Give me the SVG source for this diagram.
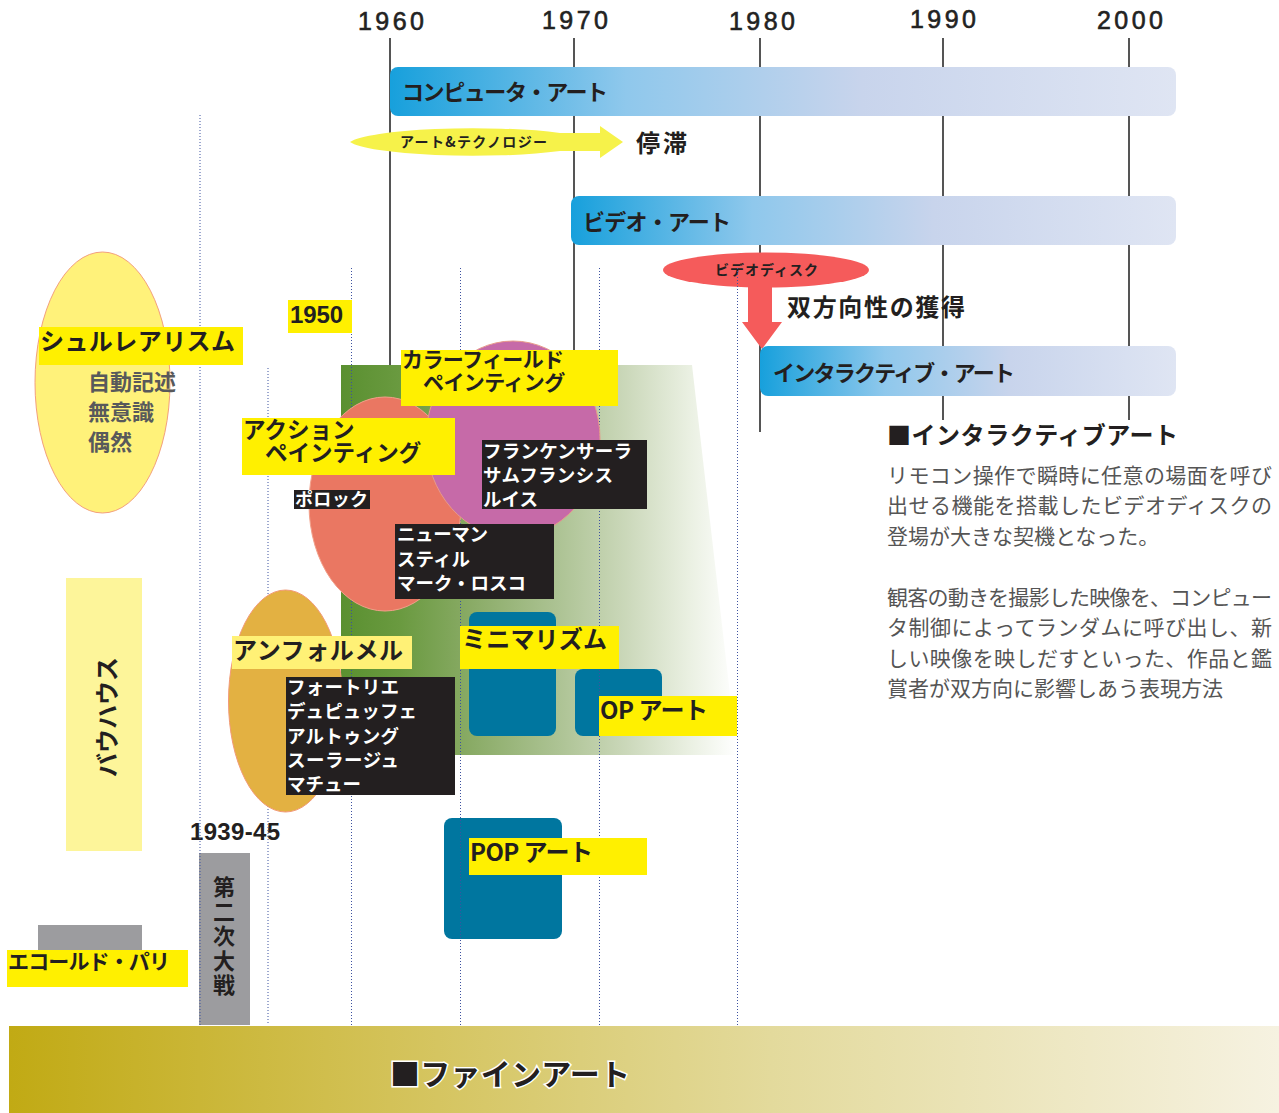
<svg xmlns="http://www.w3.org/2000/svg" width="1279" height="1113" viewBox="0 0 1279 1113">
<style>
.jp{font-family:"Noto Sans CJK JP","Noto Sans",sans-serif}
.en{font-family:"Liberation Sans","Noto Sans",sans-serif}
.b{font-weight:bold;fill:#231f20}
.w{font-weight:bold;fill:#ffffff}
.g{font-weight:bold;fill:#58595b}
.yr{font-family:"Liberation Sans","Noto Sans",sans-serif;font-size:25px;fill:#222;stroke:#222;stroke-width:0.6;text-anchor:middle}
.tick{stroke:#555;stroke-width:2;fill:none}
.dot{stroke:#3d52a0;stroke-width:1;stroke-dasharray:1 2;fill:none}
.ylw{fill:#fff000}
.blk{fill:#231f20}
.box{fill:#00769f}
.gray{fill:#9c9c9f}
.bar{fill:url(#barG)}
.para{font-family:"Noto Sans CJK JP","Noto Sans",sans-serif;font-size:21px;fill:#555}
</style>
<defs>
<linearGradient id="barG" x1="0" y1="0" x2="1" y2="0">
<stop offset="0" stop-color="#17a0dc"/>
<stop offset="0.3" stop-color="#8fc8ec"/>
<stop offset="0.6" stop-color="#c8d4ec"/>
<stop offset="1" stop-color="#dfe5f3"/>
</linearGradient>
<linearGradient id="greenG" gradientUnits="userSpaceOnUse" x1="341" y1="0" x2="737" y2="0">
<stop offset="0" stop-color="#5a9030"/>
<stop offset="0.15" stop-color="#6a9a40"/>
<stop offset="0.32" stop-color="#88aa64"/>
<stop offset="0.55" stop-color="#adc394"/>
<stop offset="0.72" stop-color="#cbd8ba"/>
<stop offset="0.88" stop-color="#eaf0e2"/>
<stop offset="1" stop-color="#ffffff"/>
</linearGradient>
<linearGradient id="bandG" x1="0" y1="0" x2="1" y2="0">
<stop offset="0" stop-color="#c1aa14"/>
<stop offset="0.3" stop-color="#d3c258"/>
<stop offset="0.6" stop-color="#e3da9c"/>
<stop offset="1" stop-color="#f6f2e1"/>
</linearGradient>
</defs>
<rect width="1279" height="1113" fill="#ffffff"/>

<g id="timeline">
<text class="yr" x="391" y="30" textLength="66">1960</text>
<text class="yr" x="575" y="29" textLength="66">1970</text>
<text class="yr" x="762" y="30" textLength="66">1980</text>
<text class="yr" x="943" y="28" textLength="66">1990</text>
<text class="yr" x="1130" y="29" textLength="66">2000</text>
<line class="tick" x1="390" y1="38" x2="390" y2="365"/>
<line class="tick" x1="574" y1="38" x2="574" y2="365"/>
<line class="tick" x1="760" y1="38" x2="760" y2="432"/>
<line class="tick" x1="943" y1="38" x2="943" y2="420"/>
<line class="tick" x1="1129" y1="38" x2="1129" y2="420"/>
</g>

<g id="fine-art-band">
<rect x="9" y="1026" width="1270" height="87" fill="url(#bandG)"/>
<text class="jp b" font-size="30" x="390" y="1085" stroke="#ffffff" stroke-width="3" paint-order="stroke" textLength="240">■ファインアート</text>
</g>

<g id="green-area">
<polygon points="341,365 692,365 737,755 341,755" fill="url(#greenG)"/>
</g>

<g id="minimalism-box"><rect class="box" x="469" y="612" width="87" height="124" rx="8"/></g>
<g id="op-box"><rect class="box" x="575" y="669" width="87" height="67" rx="8"/></g>
<g id="pop-box"><rect class="box" x="444" y="818" width="118" height="121" rx="8"/></g>

<g id="bauhaus">
<rect x="66" y="578" width="76" height="273" fill="#fdf59a"/>
<text class="jp b" font-size="24" text-anchor="middle" transform="translate(116,717) rotate(-90)">バウハウス</text>
</g>

<g id="ww2">
<text class="en b" font-size="24" x="190" y="840" textLength="90">1939-45</text>
<rect class="gray" x="199" y="853" width="51" height="172"/>
<text class="jp b" font-size="22" x="224" y="876" letter-spacing="2.5" style="writing-mode:vertical-rl">第二次大戦</text>
</g>

<g id="ecole-de-paris">
<rect class="gray" x="38" y="925" width="104" height="25"/>
<rect class="ylw" x="7" y="950" width="181" height="37"/>
<text class="jp b" font-size="21" x="8" y="969" textLength="162">エコールド・パリ</text>
</g>

<g id="videodisc">
<ellipse cx="766" cy="270" rx="103" ry="17.5" fill="#f55b5b"/>
<text class="jp b" font-size="14" x="715" y="275" textLength="103">ビデオディスク</text>
</g>

<g id="guides">
<line class="dot" x1="200" y1="115" x2="200" y2="1025"/>
<line class="dot" x1="268" y1="368" x2="268" y2="1025"/>
<line class="dot" x1="351.5" y1="268" x2="351.5" y2="1025"/>
<line class="dot" x1="460.5" y1="268" x2="460.5" y2="1025"/>
<line class="dot" x1="599.5" y1="268" x2="599.5" y2="1025"/>
<line class="dot" x1="737.5" y1="268" x2="737.5" y2="1025"/>
</g>

<g id="computer-art">
<rect class="bar" x="390" y="67" width="786" height="49" rx="8"/>
<text class="jp b" font-size="22" x="402" y="100" textLength="206">コンピュータ・アート</text>
</g>

<g id="art-and-technology">
<path d="M350,142 A125,17 0 0 1 560,133 L600,133 L600,126 L623,142 L600,158 L600,151 L560,151 A125,17 0 0 1 350,142 Z" fill="#f6f24a"/>
<text class="jp b" font-size="14" x="400" y="147" textLength="147">アート&amp;テクノロジー</text>
</g>

<g id="stagnation">
<text class="jp b" font-size="24" x="636" y="152" textLength="51">停滞</text>
</g>

<g id="video-art">
<rect class="bar" x="571" y="196" width="605" height="49" rx="8"/>
<text class="jp b" font-size="22" x="583" y="230" textLength="148">ビデオ・アート</text>
</g>

<g id="connectors">
<path d="M748,285 L772,285 L772,322 L782,322 L762,349 L742,322 L748,322 Z" fill="#f55b5b"/>
</g>

<g id="interactivity">
<text class="jp b" font-size="24" x="787" y="316" textLength="178">双方向性の獲得</text>
</g>

<g id="interactive-art">
<rect class="bar" x="760" y="346" width="416" height="50" rx="8"/>
<text class="jp b" font-size="22" x="773" y="381" textLength="242">インタラクティブ・アート</text>
</g>

<g id="interactive-note">
<text class="jp b" font-size="24" x="887" y="444" textLength="291">■インタラクティブアート</text>
<text class="para" x="887" y="483" textLength="385">リモコン操作で瞬時に任意の場面を呼び</text>
<text class="para" x="887" y="513" textLength="385">出せる機能を搭載したビデオディスクの</text>
<text class="para" x="887" y="544">登場が大きな契機となった。</text>
<text class="para" x="887" y="605" textLength="385">観客の動きを撮影した映像を、コンピュー</text>
<text class="para" x="887" y="635" textLength="385">タ制御によってランダムに呼び出し、新</text>
<text class="para" x="887" y="666" textLength="385">しい映像を映しだすといった、作品と鑑</text>
<text class="para" x="887" y="696">賞者が双方向に影響しあう表現方法</text>
</g>

<g id="surrealism">
<ellipse cx="102.5" cy="382.5" rx="67.5" ry="130.5" fill="#fff27a" stroke="#f3a07c" stroke-width="1"/>
<rect class="ylw" x="39" y="327" width="204" height="38"/>
<text class="jp b" font-size="24" x="40" y="350" textLength="195">シュルレアリスム</text>
<text class="jp g" font-size="22" x="88" y="390">自動記述</text>
<text class="jp g" font-size="22" x="88" y="420">無意識</text>
<text class="jp g" font-size="22" x="88" y="450">偶然</text>
</g>

<g id="year-1950">
<rect class="ylw" x="288" y="300" width="64" height="33"/>
<text class="en b" font-size="24" x="290" y="323" textLength="53">1950</text>
</g>

<g id="action-painting">
<ellipse cx="385" cy="504" rx="76" ry="107" fill="#ea7762" stroke="#f2a08a" stroke-width="1"/>
</g>

<g id="color-field-painting">
<ellipse cx="513" cy="439" rx="87" ry="98" fill="#c66aa8" stroke="#e79a8a" stroke-width="1"/>
<rect class="ylw" x="401" y="350" width="217" height="56"/>
<text class="jp b" font-size="21" letter-spacing="-0.6"><tspan x="402" y="367">カラーフィールド</tspan><tspan x="423" y="390">ペインティング</tspan></text>
<rect class="blk" x="482" y="440" width="165" height="69"/>
<text class="jp w" font-size="18.5" x="483" y="458" textLength="149">フランケンサーラ</text>
<text class="jp w" font-size="18.5" x="483" y="482" textLength="130">サムフランシス</text>
<text class="jp w" font-size="18.5" x="483" y="506">ルイス</text>
</g>

<g id="action-painting-labels">
<rect class="ylw" x="242" y="418" width="213" height="57"/>
<text class="jp b" font-size="22.5"><tspan x="243" y="438">アクション</tspan><tspan x="265" y="461">ペインティング</tspan></text>
<rect class="blk" x="294" y="490" width="76" height="19"/>
<text class="jp w" font-size="18" x="295" y="506" textLength="73">ポロック</text>
<rect class="blk" x="395" y="524" width="159" height="75"/>
<text class="jp w" font-size="18.5" x="397" y="541" textLength="91">ニューマン</text>
<text class="jp w" font-size="18.5" x="397" y="566">スティル</text>
<text class="jp w" font-size="18.5" x="397" y="590" textLength="129">マーク・ロスコ</text>
</g>

<g id="informel">
<ellipse cx="285.5" cy="701" rx="57" ry="111" fill="#e3b142" stroke="#f29a78" stroke-width="1"/>
<rect x="232" y="636" width="180" height="33" fill="#fff176"/>
<text class="jp b" font-size="24" x="233" y="659" textLength="170">アンフォルメル</text>
<rect class="blk" x="286" y="677" width="169" height="118"/>
<text class="jp w" font-size="18.5" x="287" y="694" textLength="112">フォートリエ</text>
<text class="jp w" font-size="18.5" x="287" y="718" textLength="130">デュピュッフェ</text>
<text class="jp w" font-size="18.5" x="287" y="743" textLength="112">アルトゥング</text>
<text class="jp w" font-size="18.5" x="287" y="767" textLength="112">スーラージュ</text>
<text class="jp w" font-size="18.5" x="287" y="791">マチュー</text>
</g>

<g id="minimalism">
<rect class="ylw" x="460" y="626" width="159" height="43"/>
<text class="jp b" font-size="24" x="462" y="648" textLength="145">ミニマリズム</text>
</g>

<g id="op-art">
<rect class="ylw" x="599" y="696" width="138" height="40"/>
<text class="jp b" font-size="24" x="600" y="719" textLength="108">OP アート</text>
</g>

<g id="pop-art">
<rect class="ylw" x="469" y="838" width="178" height="37"/>
<text class="jp b" font-size="24" x="470" y="861" textLength="123">POP アート</text>
</g>
</svg>
